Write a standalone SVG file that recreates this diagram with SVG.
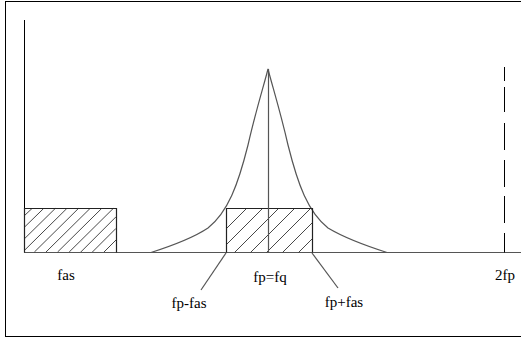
<svg xmlns="http://www.w3.org/2000/svg" width="521" height="340" viewBox="0 0 521 340">
<style>
.ln{fill:none;stroke:#000;stroke-width:1}
.gr{fill:none;stroke:#555;stroke-width:1.2}
.ht{fill:none;stroke:#333;stroke-width:0.9}
.bx{fill:none;stroke:#222;stroke-width:1.2}
text{font-family:'Liberation Serif','DejaVu Serif',serif;font-size:15px;fill:#000;text-anchor:middle}
</style>
<rect width="521" height="340" fill="#fff"/>
<rect id="frame" x="5.5" y="1.5" width="530" height="335" class="ln"/>
<g id="axes">
<path class="ln" d="M24.5,20 V252.5"/>
<path class="gr" d="M24,252.5 H521"/>
</g>
<g id="band-fas">
<path class="ht" d="M24,216 L32,208.5 M24,227.6 L43.6,208.5 M24,239.2 L55.2,208.5 M24,250.8 L66.8,208.5 M34.4,252 L78.4,208.5 M46,252 L90,208.5 M57.6,252 L101.6,208.5 M69.2,252 L113.2,208.5 M80.8,252 L116,216.8 M92.4,252 L116,228.4 M104,252 L116,240"/>
<path class="bx" d="M24.5,252.5 V208.5 H116.5 V252.5"/>
</g>
<g id="curve">
<path class="gr" d="M151,252.5 Q190,240 208,228 C228,212 238,185 248,145 C256,110 264,85 268,69 C272,85 280,110 288,145 C298,185 308,212 328,228 Q348,240 387,252.5"/>
</g>
<g id="band-center">
<path class="ht" d="M226.5,228.5 L246.5,208.5 M226.5,244.5 L262.5,208.5 M234.5,252.5 L278.5,208.5 M250.5,252.5 L294.5,208.5 M266.5,252.5 L310.5,208.5 M282.5,252.5 L312.5,222.5 M298.5,252.5 L312.5,238.5"/>
<path class="bx" d="M226.5,252.5 V208.5 H312.5 V252.5"/>
</g>
<g id="carrier">
<path class="gr" d="M268.5,69 V252.5"/>
</g>
<g id="harmonic">
<path class="ln" stroke-width="1.3" d="M504.5,67 V81 M504.5,87 V112 M504.5,123 V150 M504.5,160 V187 M504.5,196 V223 M504.5,233 V252.5"/>
</g>
<g id="connectors">
<path class="gr" d="M226,253 L201,290"/>
<path class="gr" d="M312,253 L338,288"/>
</g>
<g id="label-fas"><text font-family="Liberation Serif, serif" x="66" y="280">fas</text></g>
<g id="label-fpfq"><text font-family="Liberation Serif, serif" x="270" y="282">fp=fq</text></g>
<g id="label-fpminus"><text font-family="Liberation Serif, serif" x="189" y="308">fp-fas</text></g>
<g id="label-fpplus"><text font-family="Liberation Serif, serif" x="344" y="307">fp+fas</text></g>
<g id="label-2fp"><text font-family="Liberation Serif, serif" x="505" y="280">2fp</text></g>
</svg>
